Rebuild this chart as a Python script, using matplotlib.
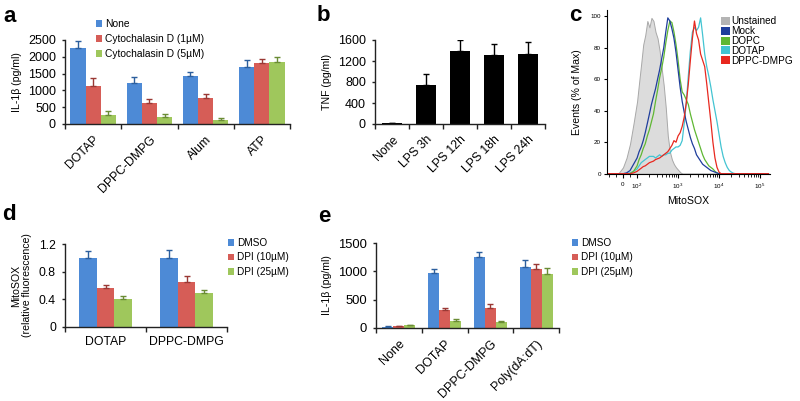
import matplotlib
matplotlib.use('Agg')
import matplotlib.pyplot as plt
from matplotlib.patches import Patch

plt.rcParams['font.family'] = ['Liberation Sans', 'DejaVu Sans']
plt.rcParams['mathtext.default'] = 'regular'

# ---------------- data ----------------
a_categories = ['DOTAP', 'DPPC-DMPG', 'Alum', 'ATP']
a_labels = ['None', 'Cytochalasin D (1µM)', 'Cytochalasin D (5µM)']
a_none = [2260, 1210, 1440, 1700]
a_none_err = [220, 200, 120, 190]
a_cd1 = [1140, 630, 760, 1830]
a_cd1_err = [220, 110, 140, 110]
a_cd5 = [270, 220, 120, 1860]
a_cd5_err = [120, 90, 70, 120]

b_categories = ['None', 'LPS 3h', 'LPS 12h', 'LPS 18h', 'LPS 24h']
b_tnf = [10, 740, 1390, 1310, 1340]
b_tnf_err = [5, 210, 215, 220, 220]

c_labels = ['Unstained', 'Mock', 'DOPC', 'DOTAP', 'DPPC-DMPG']
c_mitosox = [-110, -30, 0, 25, 50, 75,
             100, 112, 126, 141, 158, 178, 200, 224, 251, 282,
             316, 355, 398, 447, 501, 562, 631, 708, 794, 891,
             1000, 1122, 1259, 1413, 1585, 1778, 1995, 2239, 2512, 2818,
             3162, 3548, 3981, 4467, 5012, 5623, 6310, 7079, 7943, 8913,
             10000, 11220, 12589, 14125, 15849, 17783, 19953, 22387, 25119,
             40000, 160000]
c_unstained = [0, 0.5, 4, 10, 19, 32,
               46, 58, 70, 82, 88, 97, 93, 99, 97, 90,
               86, 78, 67, 56, 42, 24, 14, 9, 6, 4,
               2.5, 1, 0, 0, 0, 0, 0, 0, 0, 0,
               0, 0, 0, 0, 0, 0, 0, 0, 0, 0,
               0, 0, 0, 0, 0, 0, 0, 0, 0,
               0, 0]
c_mock = [0, 0, 0, 0.5, 2, 6,
          10, 14, 17, 21, 26, 32, 38, 44, 49, 54,
          60, 66, 73, 80, 90, 99, 97, 92, 86, 77,
          66, 55, 46, 39, 33, 28, 23, 19, 16, 12,
          10, 8, 6, 5, 4, 3, 2, 1.5, 1, 0.5,
          0, 0, 0, 0, 0, 0, 0, 0, 0,
          0, 0]
c_dopc = [0, 0, 0, 0, 0, 1.5,
          5, 9, 12, 16, 19, 24, 28, 33, 38, 46,
          53, 61, 67, 74, 83, 91, 97, 96, 90, 82,
          72, 60, 52, 50, 47, 44, 38, 33, 28, 24,
          20, 16, 12, 9, 7, 5, 4, 3, 1.5, 0.5,
          0, 0, 0, 0, 0, 0, 0, 0, 0,
          0, 0]
c_dotap = [0, 0, 0, 0, 0.5, 1.5,
           3, 5, 7, 8, 9, 10, 11, 11, 11, 10,
           11, 12, 11, 12, 12, 13, 13, 15, 16, 17,
           17, 18, 21, 32, 45, 62, 78, 90, 93, 91,
           93, 99, 88, 76, 68, 62, 55, 47, 40, 33,
           25, 17, 11, 7, 4, 2, 1, 0.3, 0,
           0, 0]
c_dppc = [0, 0, 0, 0, 0, 0.5,
          1.5, 2.5, 3.5, 4.5, 5, 6, 7, 7.5, 8, 9,
          9.5, 10, 11, 12, 13, 14, 16, 18, 21, 20,
          24, 26, 30, 36, 45, 57, 72, 86, 97, 89,
          85, 76, 72, 68, 57, 45, 33, 20, 10, 4,
          1, 0, 0, 0, 0, 0, 0, 0, 0,
          0, 0]

d_categories = ['DOTAP', 'DPPC-DMPG']
d_labels = ['DMSO', 'DPI (10µM)', 'DPI (25µM)']
d_dmso = [1.0, 1.0]
d_dmso_err = [0.10, 0.12]
d_dpi10 = [0.57, 0.645]
d_dpi10_err = [0.04, 0.09]
d_dpi25 = [0.40, 0.49]
d_dpi25_err = [0.04, 0.045]

e_categories = ['None', 'DOTAP', 'DPPC-DMPG', 'Poly(dA:dT)']
e_labels = ['DMSO', 'DPI (10µM)', 'DPI (25µM)']
e_dmso = [20, 966, 1250, 1080]
e_dmso_err = [12, 70, 90, 120]
e_dpi10 = [25, 308, 356, 1043]
e_dpi10_err = [10, 35, 60, 90]
e_dpi25 = [40, 125, 107, 955]
e_dpi25_err = [8, 25, 12, 100]

# ---------------- style ----------------
BLUE = '#4d8ad6'
RED = '#d65d57'
GREEN = '#9fc75c'
BLUE_E = '#2c5f9e'
RED_E = '#9a3834'
GREEN_E = '#6a8c34'

W, H = 800, 401
fig = plt.figure(figsize=(8, 4.01), dpi=100)


def axes_px(left, top, right, bottom):
    return fig.add_axes([left / W, 1 - bottom / H, (right - left) / W, (bottom - top) / H])


def style_bar_axes(ax, n, cats, rot, fs_tick, fs_cat, cat_pad):
    for s in ['top', 'right']:
        ax.spines[s].set_visible(False)
    for s in ['left', 'bottom']:
        ax.spines[s].set_linewidth(1.0)
        ax.spines[s].set_color('#222222')
    ax.set_xlim(0.5, n + 0.5)
    ax.set_xticks(range(1, n + 1))
    if rot:
        ax.set_xticklabels(cats, rotation=45, ha='right', va='top',
                           rotation_mode='anchor', fontsize=fs_cat)
    else:
        ax.set_xticklabels(cats, fontsize=fs_cat)
    ax.tick_params(axis='x', which='major', length=0, pad=cat_pad)
    ax.set_xticks([i + 0.5 for i in range(0, n + 1)], minor=True)
    ax.tick_params(axis='x', which='minor', length=3.5, width=1.0, direction='out', color='#222222')
    ax.tick_params(axis='y', length=2.5, width=1.0, direction='out', labelsize=fs_tick, pad=4,
                   color='#222222')


def grouped(ax, series, errs, colors, ecolors, width):
    n = len(series[0])
    for k, (vals, err, c, ec) in enumerate(zip(series, errs, colors, ecolors)):
        xs = [i + 1 + (k - 1) * width for i in range(n)]
        ax.bar(xs, vals, width=width, color=c, zorder=2,
               yerr=[[0] * n, err], error_kw=dict(ecolor=ec, elinewidth=1.0, capsize=2.5,
                                                    capthick=1.0, zorder=3))


def bar_legend(labels, colors, x, y, fs, spacing):
    handles = [Patch(facecolor=c, edgecolor='none') for c in colors]
    fig.legend(handles, labels, loc='upper left', bbox_to_anchor=(x / W, 1 - y / H),
               frameon=False, fontsize=fs, handlelength=0.6, handleheight=0.6,
               handletextpad=0.3, labelspacing=spacing, borderpad=0, borderaxespad=0)


# ---------------- panel a ----------------
axa = axes_px(65, 40, 290, 124)
grouped(axa, [a_none, a_cd1, a_cd5], [a_none_err, a_cd1_err, a_cd5_err],
        [BLUE, RED, GREEN], [BLUE_E, RED_E, GREEN_E], 0.27)
axa.set_ylim(0, 2500)
axa.set_yticks([0, 500, 1000, 1500, 2000, 2500])
style_bar_axes(axa, 4, a_categories, True, 9.0, 8.8, 7)
axa.set_ylabel('IL-1β (pg/ml)', fontsize=7.6, labelpad=4)
bar_legend(a_labels, [BLUE, RED, GREEN], 96, 19, 7.4, 0.5)

# ---------------- panel b ----------------
axb = axes_px(375, 40, 545, 124)
axb.bar(range(1, 6), b_tnf, width=0.59, color='black', zorder=2,
        yerr=[[0] * 5, b_tnf_err], error_kw=dict(ecolor='black', elinewidth=1.0,
                                                 capsize=2.5, capthick=1.0))
axb.set_ylim(0, 1600)
axb.set_yticks([0, 400, 800, 1200, 1600])
style_bar_axes(axb, 5, b_categories, True, 9.0, 8.8, 7)
axb.set_ylabel('TNF (pg/ml)', fontsize=7.6, labelpad=4)

# ---------------- panel c ----------------
axc = axes_px(607, 10, 770, 173.7)
axc.set_xscale('symlog', linthresh=100, linscale=0.31)
axc.fill_between(c_mitosox, c_unstained, 0, facecolor='#dcdcdc', edgecolor='#a8a8a8',
                 linewidth=0.7, zorder=1)
c_colors = ['#b4b4b4', '#1f3e9c', '#5fb733', '#43c4d2', '#e8281f']
for vals, col in zip([c_dotap, c_dopc, c_mock, c_dppc], [c_colors[3], c_colors[2], c_colors[1], c_colors[4]]):
    axc.plot(c_mitosox, vals, color=col, linewidth=0.9, zorder=2)
axc.set_xlim(-111, 1.75e5)
axc.set_ylim(0, 104)
for s in ['top', 'right']:
    axc.spines[s].set_visible(False)
for s in ['left', 'bottom']:
    axc.spines[s].set_linewidth(0.8)
axc.set_xticks([0, 100, 1000, 10000, 100000])
axc.set_xticklabels(['0', '$10^2$', '$10^3$', '$10^4$', '$10^5$'], fontsize=4.5)
minor = [-100, -50, 50]
for dec in [100, 1000, 10000]:
    minor += [dec * m for m in range(2, 10)]
axc.set_xticks(minor, minor=True)
axc.tick_params(axis='x', which='major', length=3, width=0.8, pad=3)
axc.tick_params(axis='x', which='minor', length=1.8, width=0.6)
axc.set_yticks([0, 20, 40, 60, 80, 100])
axc.tick_params(axis='y', labelsize=4.5, length=2.5, width=0.8, pad=2)
axc.set_xlabel('MitoSOX', fontsize=7.6, labelpad=3)
axc.set_ylabel('Events (% of Max)', fontsize=7.6, labelpad=6)
handles = [Patch(facecolor=c, edgecolor='none') for c in c_colors]
fig.legend(handles, c_labels, loc='upper left', bbox_to_anchor=(721 / W, 1 - 16.5 / H),
           frameon=False, fontsize=7.2, handlelength=0.85, handleheight=0.85,
           handletextpad=0.2, labelspacing=-0.02, borderpad=0, borderaxespad=0)

# ---------------- panel d ----------------
axd = axes_px(65, 244.3, 227, 326.7)
grouped(axd, [d_dmso, d_dpi10, d_dpi25], [d_dmso_err, d_dpi10_err, d_dpi25_err],
        [BLUE, RED, GREEN], [BLUE_E, RED_E, GREEN_E], 0.222)
axd.set_ylim(0, 1.2)
axd.set_yticks([0, 0.4, 0.8, 1.2])
axd.set_yticklabels(['0', '0.4', '0.8', '1.2'])
style_bar_axes(axd, 2, d_categories, False, 8.8, 8.8, 7)
axd.set_ylabel('MitoSOX\n(relative fluorescence)', fontsize=7.6, labelpad=5, linespacing=1.1)
bar_legend(d_labels, [BLUE, RED, GREEN], 228, 238, 7.2, 0.45)

# ---------------- panel e ----------------
axe = axes_px(376, 243.3, 559, 327.7)
grouped(axe, [e_dmso, e_dpi10, e_dpi25], [e_dmso_err, e_dpi10_err, e_dpi25_err],
        [BLUE, RED, GREEN], [BLUE_E, RED_E, GREEN_E], 0.24)
axe.set_ylim(0, 1500)
axe.set_yticks([0, 500, 1000, 1500])
style_bar_axes(axe, 4, e_categories, True, 9.4, 9.0, 7)
axe.set_ylabel('IL-1β (pg/ml)', fontsize=7.6, labelpad=4)
bar_legend(e_labels, [BLUE, RED, GREEN], 572, 238, 7.2, 0.45)

# ---------------- panel letters ----------------
for letter, x, y in [('a', 3, 22), ('b', 317, 21), ('c', 569, 21), ('d', 2, 220), ('e', 318, 222)]:
    fig.text(x / W, 1 - y / H, letter, fontsize=16, fontweight='bold', va='baseline', ha='left')

fig.savefig('out.png', dpi=100, facecolor='white')
